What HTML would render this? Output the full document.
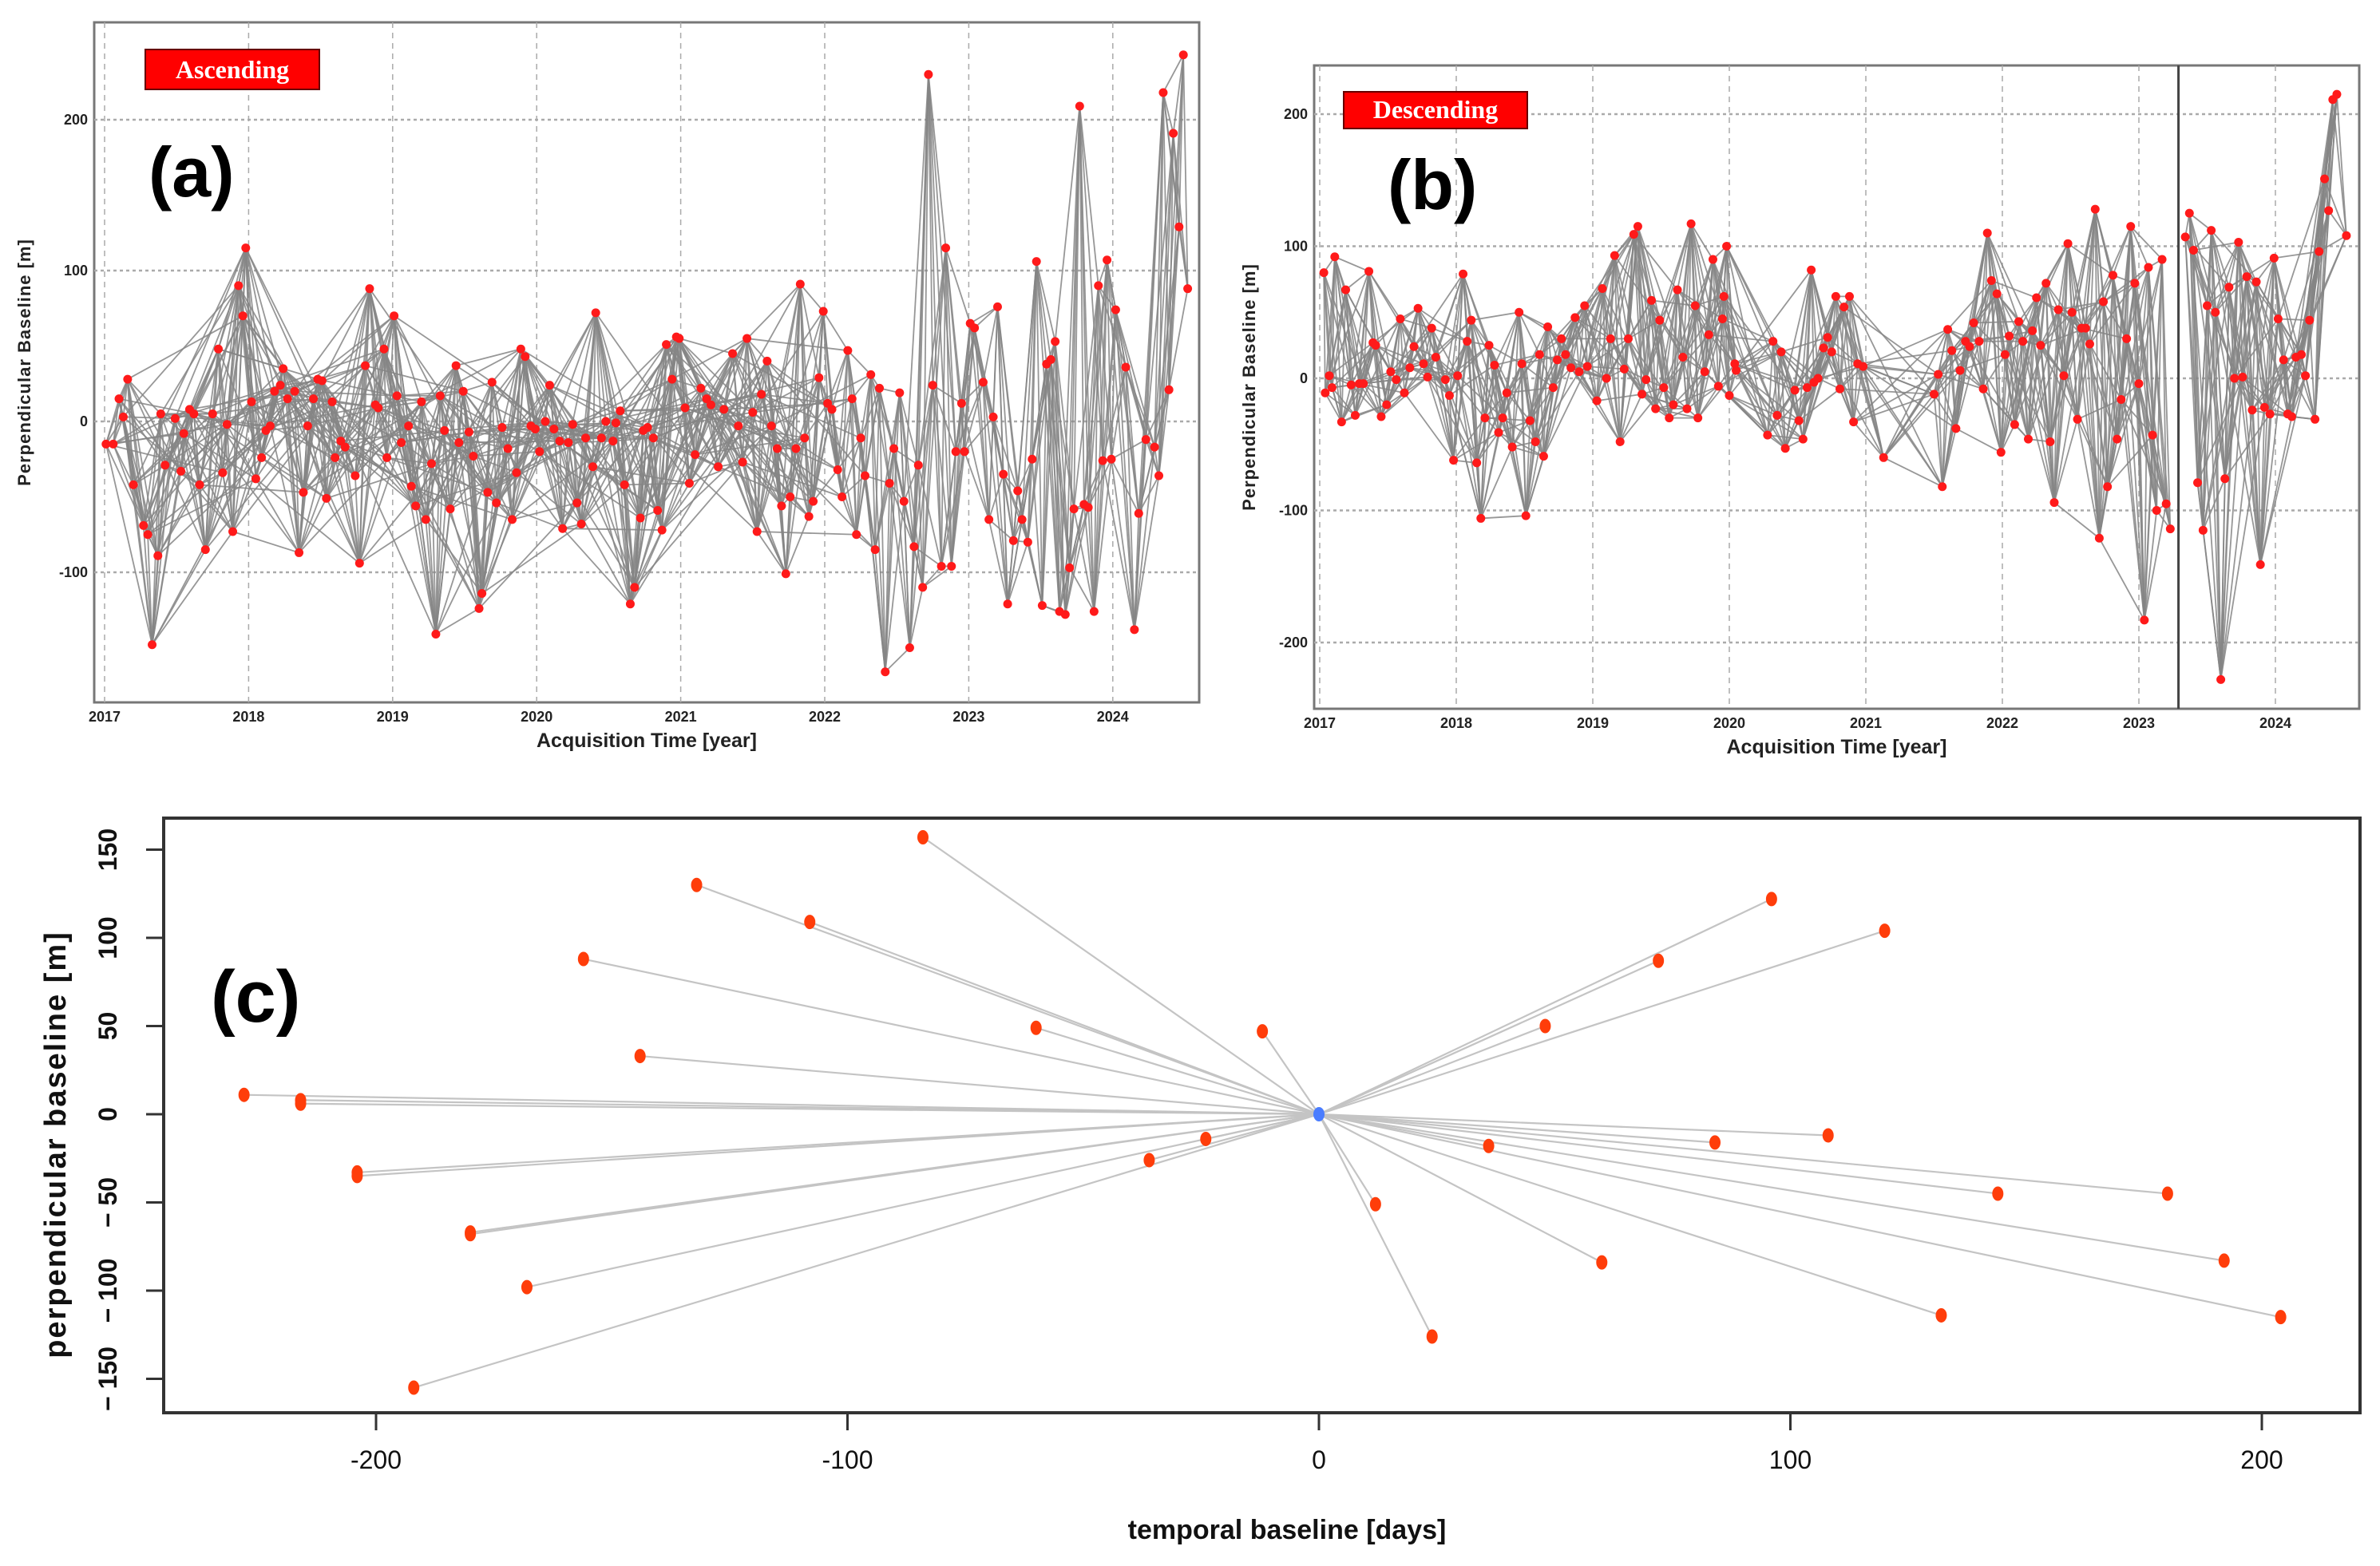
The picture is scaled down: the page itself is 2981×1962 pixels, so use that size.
<!DOCTYPE html>
<html><head><meta charset="utf-8"><style>
html,body{margin:0;padding:0;background:#fff}
svg{display:block;font-family:"Liberation Sans",sans-serif}
</style></head><body>
<svg id="fig" width="2981" height="1962" viewBox="0 0 2981 1962" xmlns="http://www.w3.org/2000/svg">
<rect width="2981" height="1962" fill="#fff"/>
<g id="pa"></g>
<g id="pb"></g>
<g id="pc"></g>
</svg>
<script>
// Panel (a): acquisition time (years since 2017-01-01) and perpendicular baseline (m)
const tA=[0.01,0.06,0.10,0.13,0.16,0.20,0.27,0.30,0.37,0.33,0.39,0.42,0.49,0.53,0.55,0.59,0.62,0.66,0.70,0.75,0.79,0.82,0.85,0.89,0.93,0.96,0.98,1.02,1.05,1.09,1.12,1.15,1.18,1.22,1.24,1.27,1.32,1.35,1.38,1.41,1.45,1.48,1.51,1.54,1.58,1.60,1.64,1.67,1.74,1.77,1.81,1.84,1.88,1.90,1.94,1.96,2.01,2.03,2.06,2.11,2.13,2.16,2.20,2.23,2.27,2.30,2.33,2.36,2.40,2.44,2.46,2.49,2.53,2.56,2.60,2.62,2.66,2.69,2.72,2.76,2.80,2.83,2.86,2.89,2.92,2.96,2.99,3.02,3.06,3.09,3.12,3.16,3.18,3.22,3.25,3.28,3.31,3.34,3.39,3.41,3.45,3.48,3.53,3.55,3.58,3.61,3.65,3.68,3.72,3.74,3.77,3.81,3.84,3.87,3.90,3.94,3.97,3.99,4.03,4.06,4.10,4.14,4.18,4.21,4.26,4.30,4.36,4.40,4.43,4.46,4.50,4.53,4.56,4.60,4.63,4.67,4.70,4.73,4.76,4.80,4.83,4.86,4.89,4.92,4.96,4.99,5.02,5.05,5.09,5.12,5.16,5.19,5.22,5.25,5.28,5.32,5.35,5.38,5.42,5.45,5.48,5.52,5.55,5.59,5.62,5.65,5.68,5.72,5.75,5.81,5.84,5.88,5.91,5.95,5.97,6.01,6.04,6.10,6.14,6.17,6.20,6.24,6.27,6.31,6.34,6.37,6.41,6.44,6.47,6.51,6.54,6.57,6.60,6.63,6.67,6.70,6.73,6.77,6.80,6.83,6.87,6.90,6.93,6.96,6.99,7.02,7.09,7.15,7.18,7.23,7.29,7.32,7.35,7.39,7.42,7.46,7.49,7.52];
const bA=[-15,-15,15,3,28,-42,-69,-75,-89,-148,5,-29,2,-33,-8,8,5,-42,-85,5,48,-34,-2,-73,90,70,115,13,-38,-24,-6,-3,20,24,35,15,20,-87,-47,-3,15,28,27,-51,13,-24,-13,-17,-36,-94,37,88,11,9,48,-24,70,17,-14,-3,-43,-56,13,-65,-28,-141,17,-6,-58,37,-14,20,-7,-23,-124,-114,-47,26,-54,-4,-18,-65,-34,48,43,-3,-5,-20,0,24,-5,-13,-71,-14,-2,-54,-68,-11,-30,72,-11,0,-13,-1,7,-42,-121,-110,-64,-6,-4,-11,-59,-72,51,28,56,55,9,-41,-22,22,15,11,-30,8,45,-3,-27,55,6,-73,18,40,-3,-18,-56,-101,-50,-18,91,-11,-63,-53,29,73,12,8,-32,-50,47,15,-75,-11,-36,31,-85,22,-166,-41,-18,19,-53,-150,-83,-29,-110,230,24,-96,115,-96,-20,12,-20,65,62,26,-65,3,76,-35,-121,-79,-46,-65,-80,-25,106,-122,38,41,53,-126,-128,-97,-58,209,-55,-57,-126,90,-26,107,-25,74,36,-138,-61,-12,-17,-36,218,21,191,129,243,88];
// Panel (b)
const tB=[0.03,0.04,0.07,0.09,0.11,0.16,0.19,0.23,0.26,0.29,0.32,0.36,0.39,0.41,0.45,0.49,0.52,0.56,0.59,0.62,0.66,0.69,0.72,0.76,0.79,0.82,0.85,0.92,0.95,0.98,1.01,1.05,1.08,1.11,1.15,1.18,1.21,1.24,1.28,1.31,1.34,1.37,1.41,1.46,1.48,1.51,1.54,1.58,1.61,1.64,1.67,1.71,1.74,1.77,1.80,1.84,1.87,1.90,1.94,1.96,2.03,2.07,2.10,2.13,2.16,2.20,2.23,2.26,2.30,2.33,2.36,2.39,2.43,2.46,2.49,2.52,2.56,2.59,2.62,2.66,2.69,2.72,2.75,2.77,2.82,2.85,2.88,2.92,2.95,2.96,2.98,3.00,3.04,3.05,3.28,3.32,3.35,3.38,3.41,3.48,3.51,3.54,3.57,3.60,3.62,3.65,3.69,3.72,3.75,3.78,3.81,3.84,3.88,3.91,3.94,3.98,4.13,4.50,4.53,4.56,4.60,4.63,4.66,4.69,4.73,4.76,4.79,4.83,4.86,4.89,4.92,4.96,4.99,5.02,5.05,5.09,5.12,5.15,5.19,5.22,5.25,5.28,5.32,5.35,5.38,5.41,5.45,5.48,5.51,5.55,5.58,5.61,5.64,5.68,5.71,5.74,5.77,5.81,5.84,5.87,5.91,5.94,5.97,6.00,6.04,6.07,6.10,6.13,6.17,6.20,6.23,6.34,6.37,6.40,6.43,6.47,6.50,6.53,6.56,6.60,6.63,6.66,6.70,6.73,6.76,6.79,6.83,6.86,6.89,6.92,6.96,6.99,7.02,7.06,7.09,7.12,7.15,7.19,7.22,7.25,7.29,7.32,7.36,7.39,7.42,7.45,7.52];
const bB=[80,-11,2,-7,92,-33,67,-5,-28,-4,-4,81,27,25,-29,-20,5,-1,45,-11,8,24,53,11,1,38,16,-1,-13,-62,2,79,28,44,-64,-106,-30,25,10,-41,-30,-11,-52,50,11,-104,-32,-48,18,-59,39,-7,14,30,18,8,46,5,55,9,-17,68,0,30,93,-48,7,30,109,115,-12,-1,59,-23,44,-7,-30,-20,67,16,-23,117,55,-30,5,33,90,-6,45,62,100,-13,11,6,-43,28,-28,20,-53,-9,-32,-46,-7,82,-3,0,23,31,20,62,-8,54,62,-33,11,9,-60,-12,3,-82,37,21,-38,6,28,24,42,28,-8,110,74,64,-56,18,32,-35,43,28,-46,36,61,25,72,-48,-94,52,2,102,50,-31,38,38,26,128,-121,58,-82,78,-46,-16,30,115,72,-4,-183,84,-43,-100,90,-95,-114,107,125,97,-79,-115,55,112,50,-228,-76,69,0,103,1,77,-24,73,-141,-22,-27,91,45,14,-27,-29,16,18,2,44,-31,96,151,127,211,215,108];
const yearTicks=["2017","2018","2019","2020","2021","2022","2023","2024"];
const yTicksA=[-100,0,100,200];
const yTicksB=[-200,-100,0,100,200];
const splitB=6.29; // vertical marker (year offset)
// Panel (c)
const tempC=[-84,-132,-108,-156,-60,-12,-144,-228,-216,-216,-204,-204,-180,-180,-168,-192,-36,-24,96,120,72,48,108,84,36,12,60,24,144,180,192,132,204];
const perpC=[157,130,109,88,49,47,33,11,8,6,-33,-35,-67,-68,-98,-155,-26,-14,122,104,87,50,-12,-16,-18,-51,-84,-126,-45,-45,-83,-114,-115];
const xTicksC=[-200,-100,0,100,200];
const yTicksC=[150,100,50,0,-50,-100,-150];
const yLabelsC=["150","100","50","0","− 50","− 100","− 150"];

const NS="http://www.w3.org/2000/svg";
function mk(p,tag,at){const e=document.createElementNS(NS,tag);for(const k in at)e.setAttribute(k,at[k]);p.appendChild(e);return e;}

function panel(g,cfg){
  const {L,R,T,B,x0,xs,y0,ys,t,b,yt}=cfg;
  const X=v=>x0+v*xs, Y=v=>y0-v*ys;
  mk(g,'rect',{x:L,y:T,width:R-L,height:B-T,fill:'#fff',stroke:'#777','stroke-width':3});
  yearTicks.forEach((lab,i)=>{
    const gl=mk(g,'line',{x1:X(i),x2:X(i),y1:T,y2:B,stroke:'#aaa','stroke-width':1.5,'stroke-dasharray':'7,6'});
    
    const tx=mk(g,'text',{x:X(i),y:B+24,'text-anchor':'middle','font-size':18,'font-weight':'bold',fill:'#222'});
    tx.textContent=lab;
    
  });
  yt.forEach(v=>{
    const gl=mk(g,'line',{x1:L,x2:R,y1:Y(v),y2:Y(v),stroke:'#aaa','stroke-width':2.5,'stroke-dasharray':'4,4'});
    
    const tx=mk(g,'text',{x:L-8,y:Y(v)+6,'text-anchor':'end','font-size':18,'font-weight':'bold',fill:'#222'});
    tx.textContent=v;
    
  });
  if(cfg.split!==undefined){
    const sl=mk(g,'line',{x1:X(cfg.split),x2:X(cfg.split),y1:T,y2:B,stroke:'#444','stroke-width':3});
    
  }
  const eg=mk(g,'g',{stroke:'#858585','stroke-width':1.8,'stroke-opacity':0.85});
  
  const n=t.length;
  for(let i=0;i<n;i++){
    cfg.links(i,n).forEach(j=>{
      if(j<n&&j>i&&cfg.ok(i,j)){
        const l=mk(eg,'line',{x1:X(t[i]),y1:Y(b[i]),x2:X(t[j]),y2:Y(b[j])});
        
        
      }
    });
  }
  for(let i=0;i<n;i++){
    const c=mk(g,'circle',{cx:X(t[i]),cy:Y(b[i]),r:5.5,fill:'#ff1a1a'});
    
    
  }
  const lb=mk(g,'rect',{x:cfg.lab[0],y:cfg.lab[1],width:cfg.lab[2],height:cfg.lab[3],fill:'#f00',stroke:'#600','stroke-width':2});
  
  const lt=mk(g,'text',{x:cfg.lab[0]+cfg.lab[2]/2,y:cfg.lab[1]+cfg.lab[3]*0.72,'text-anchor':'middle','font-size':32,'font-weight':'bold','font-family':'Liberation Serif, serif',fill:'#fff'});
  lt.textContent=cfg.name;
  
  const pl=mk(g,'text',{x:cfg.pl[0],y:cfg.pl[1],'font-size':88,'font-weight':'bold',fill:'#000'});
  pl.textContent=cfg.pltxt;
  
  const xt=mk(g,'text',{x:(L+R)/2,y:B+56,'text-anchor':'middle','font-size':25,'font-weight':'bold',fill:'#222'});
  xt.textContent='Acquisition Time [year]';
  
  const cy=(T+B)/2;
  const yt2=mk(g,'text',{x:cfg.ytx,y:cy,'text-anchor':'middle','font-size':22,'font-weight':'bold',fill:'#222',transform:`rotate(-90 ${cfg.ytx} ${cy})`,'letter-spacing':1});
  yt2.textContent='Perpendicular Baseline [m]';
  
}

panel(document.getElementById('pa'),{L:118,R:1502,T:28,B:880,x0:131,xs:180.4,y0:528,ys:1.89,t:tA,b:bA,yt:yTicksA,
  links:(i,n)=>i<n*0.62?[i+1,i+2,i+3,i+4,i+6,i+9,i+14,i+21]:[i+1,i+2,i+3,i+4,i+5],
  ok:(i,j)=>Math.abs(tA[j]-tA[i])<1.6,
  lab:[182,62,218,50],name:'Ascending',pl:[186,246],pltxt:'(a)',ytx:38});
panel(document.getElementById('pb'),{L:1646,R:2955,T:82,B:888,x0:1653,xs:171,y0:474,ys:1.655,t:tB,b:bB,yt:yTicksB,split:splitB,
  links:(i,n)=>[i+1,i+2,i+3,i+4,i+5,i+7,i+10],
  ok:(i,j)=>Math.abs(tB[j]-tB[i])<0.75&&((tB[i]<splitB)===(tB[j]<splitB)),
  lab:[1683,115,230,46],name:'Descending',pl:[1738,262],pltxt:'(b)',ytx:1572});

// Panel (c)
(function(){
  const g=document.getElementById('pc');
  const L=205,R=2956,T=1025,B=1770;
  const X=v=>1652+v*5.905, Y=v=>1396-v*2.21;
  mk(g,'rect',{x:L,y:T,width:R-L,height:B-T,fill:'#fff',stroke:'#333','stroke-width':4});
  const lg=mk(g,'g',{stroke:'#c4c4c4','stroke-width':2.2});
  
  for(let i=0;i<tempC.length;i++){
    const l=mk(lg,'line',{x1:X(0),y1:Y(0),x2:X(tempC[i]),y2:Y(perpC[i])});
    
    
  }
  for(let i=0;i<tempC.length;i++){
    const c=mk(g,'ellipse',{cx:X(tempC[i]),cy:Y(perpC[i]),rx:7,ry:9,fill:'#ff3d0a'});
    
    
  }
  const m=mk(g,'ellipse',{cx:X(0),cy:Y(0),rx:7,ry:9,fill:'#4a7dff'});
  
  xTicksC.forEach(v=>{
    const tk=mk(g,'line',{x1:X(v),x2:X(v),y1:B,y2:B+22,stroke:'#333','stroke-width':3});
    
    const tx=mk(g,'text',{x:X(v),y:B+70,'text-anchor':'middle','font-size':32,fill:'#111'});
    tx.textContent=v;
    
  });
  yTicksC.forEach((v,i)=>{
    const tk=mk(g,'line',{x1:L-22,x2:L,y1:Y(v),y2:Y(v),stroke:'#333','stroke-width':3});
    
    const tx=mk(g,'text',{x:146,y:Y(v),'text-anchor':'middle','font-size':32,'font-weight':'bold',fill:'#111',transform:`rotate(-90 146 ${Y(v)})`});
    tx.textContent=yLabelsC[i];
    
  });
  const xt=mk(g,'text',{x:1612,y:1928,'text-anchor':'middle','font-size':34,'font-weight':'bold',fill:'#111'});
  xt.textContent='temporal baseline [days]';
  
  const yt=mk(g,'text',{x:82,y:1434,'text-anchor':'middle','font-size':38,'font-weight':'bold',fill:'#111','letter-spacing':2,transform:'rotate(-90 82 1434)'});
  yt.textContent='perpendicular baseline [m]';
  
  const pl=mk(g,'text',{x:264,y:1280,'font-size':92,'font-weight':'bold',fill:'#000'});
  pl.textContent='(c)';
  
})();
</script>
</body></html>
